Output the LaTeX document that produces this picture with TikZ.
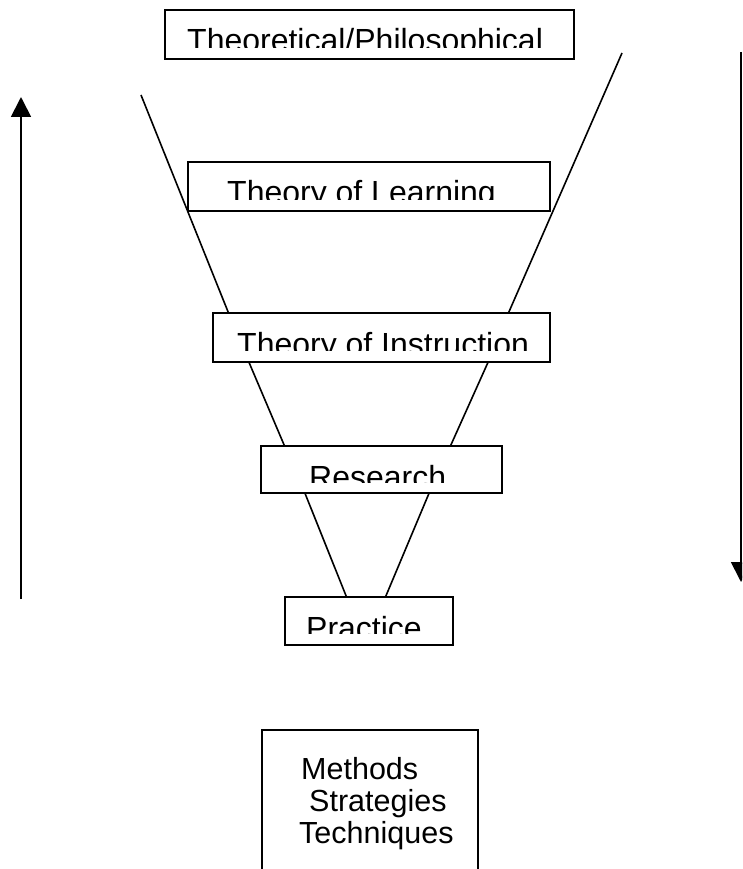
\documentclass[tikz,border=0pt]{standalone}
\usepackage{fontspec}
\setmainfont{Liberation Sans}
\usetikzlibrary{arrows.meta,backgrounds}
\begin{document}
\begin{tikzpicture}[x=1pt,y=-1pt,
  box/.style={draw=black,line width=1.6pt,fill=white,inner sep=0pt},
  lbl/.style={anchor=base west,inner sep=0pt,font=\fontsize{32}{38}\selectfont},
  lbl2/.style={anchor=base west,inner sep=0pt,font=\fontsize{30.5}{36}\selectfont},
  funnel/.style={line width=1.6pt},
  bigarrow/.style={line width=1.8pt,-{Triangle[length=20pt,width=20pt]}}]
\useasboundingbox (0,0) rectangle (742,869);
\clip (0,0) rectangle (742,869);
% boxes
\node[box,minimum width=409pt,minimum height=49pt] (b1) at (369.5,34.5) {};
\node[box,minimum width=362pt,minimum height=49pt] (b2) at (369,186.5) {};
\node[box,minimum width=337pt,minimum height=49pt] (b3) at (381.5,337.5) {};
\node[box,minimum width=241pt,minimum height=47pt] (b4) at (381.5,469.5) {};
\node[box,minimum width=168pt,minimum height=48pt] (b5) at (369,621) {};
\node[box,minimum width=216pt,minimum height=170pt] (b6) at (370,815) {};
% clipped labels
\begin{scope}\clip (165,10) rectangle (574,48);
\node[lbl] (t1) at (187,52) {Theoretical/Philosophical};\end{scope}
\begin{scope}\clip (188,162) rectangle (550,199.5);
\node[lbl] (t2) at (227,204) {Theory of Learning};\end{scope}
\begin{scope}\clip (213,313) rectangle (550,350.5);
\node[lbl] (t3) at (237,355) {Theory of Instruction};\end{scope}
\begin{scope}\clip (261,446) rectangle (502,482);
\node[lbl] (t4) at (309,488) {Research};\end{scope}
\begin{scope}\clip (285,597) rectangle (453,633.5);
\node[lbl] (t5) at (306,639) {Practice};\end{scope}
\node[lbl2] (m1) at (301,779) {Methods};
\node[lbl2] (m2) at (309,811) {Strategies};
\node[lbl2] (m3) at (299,843) {Techniques};
% free ends
\coordinate (lt) at (141,95);
\coordinate (rt) at (622,53);
\coordinate (ua0) at (21,599);
\coordinate (ua1) at (21,97);
\coordinate (da0) at (741,52);
\coordinate (da1) at (741,582);
\begin{pgfonlayer}{background}
\draw[funnel] (lt) -- ([xshift=16pt]b3.north west);
\draw[funnel] (rt) -- ([xshift=-42pt]b3.north east);
\end{pgfonlayer}
\draw[funnel] ([xshift=37pt]b3.south west) -- ([xshift=24pt]b4.north west);
\draw[funnel] ([xshift=-63pt]b3.south east) -- ([xshift=-52pt]b4.north east);
\draw[funnel] ([xshift=45pt]b4.south west) -- ([xshift=62pt]b5.north west);
\draw[funnel] ([xshift=-74pt]b4.south east) -- ([xshift=-68pt]b5.north east);
\draw[bigarrow] (ua0) -- (ua1);
\draw[bigarrow] (da0) -- (da1);
\end{tikzpicture}
\end{document}
